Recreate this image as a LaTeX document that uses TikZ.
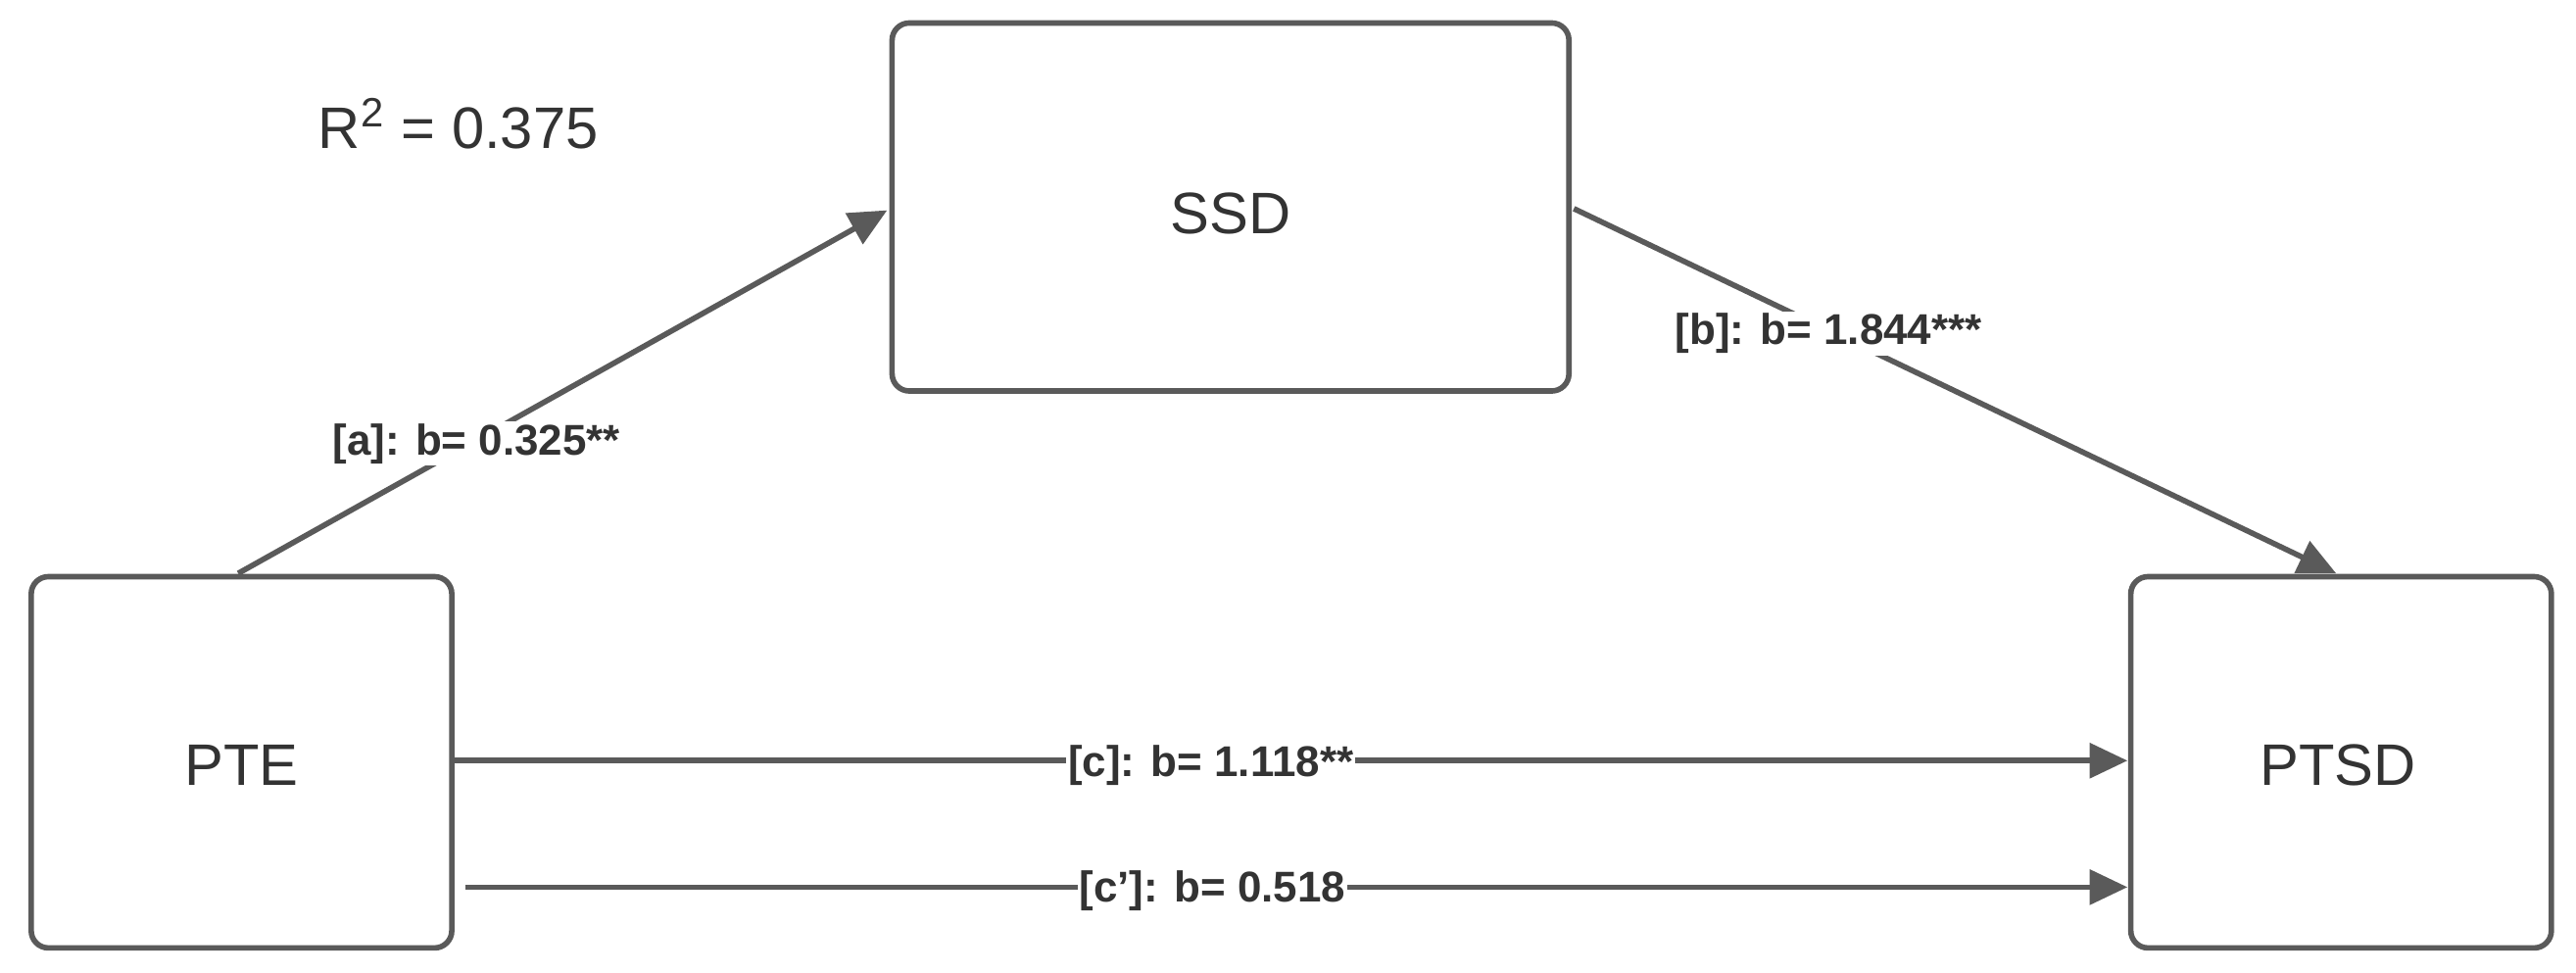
\documentclass[tikz,border=0pt]{standalone}
\usepackage{fontspec}
\setmainfont{Liberation Sans}
\usetikzlibrary{arrows.meta}
\definecolor{ln}{HTML}{5A5A5A}
\definecolor{tx}{HTML}{333333}
\begin{document}
\begin{tikzpicture}[x=0.016767cm,y=-0.016767cm,
 box/.style={draw=ln,line width=1.6pt,rounded corners=5pt,fill=white},
 lab/.style={font=\bfseries\fontsize{12.5}{14}\selectfont,text=tx,fill=white,inner sep=0.5pt},
 arr/.style={draw=ln,line width=1.6pt,-{Triangle[length=11pt,width=10pt]}}]
\useasboundingbox (0,0) rectangle (1568,592);
\draw[box] (543,14) rectangle (955,238);
\node[font=\fontsize{17}{20}\selectfont,text=tx] (ssd) at (749,130) {SSD};
\draw[box] (19,351) rectangle (275,577);
\node[font=\fontsize{17}{20}\selectfont,text=tx] (pte) at (147,466) {PTE};
\draw[box] (1297,351) rectangle (1553,577);
\node[font=\fontsize{17}{20}\selectfont,text=tx] (ptsd) at (1423,466) {PTSD};
\node[font=\fontsize{17}{20}\selectfont,text=tx] (r2) at (279,75) {R\textsuperscript{2} = 0.375};
\coordinate (a1) at (145,349); \coordinate (a2) at (540,128);
\coordinate (b1) at (958,127); \coordinate (b2) at (1422,349);
\coordinate (c1) at (277,463); \coordinate (c2) at (1295,463);
\coordinate (d1) at (283,540); \coordinate (d2) at (1295,540);
\draw[arr] (a1) -- (a2);
\draw[arr] (b1) -- (b2);
\draw[arr] (c1) -- (c2);
\draw[arr] (d1) -- (d2);
\node[lab] (la) at (290,270) {[a]: b= 0.325**};
\node[lab] (lb) at (1113,203) {[b]: b= 1.844***};
\node[lab] (lc) at (737,466) {[c]: b= 1.118**};
\node[lab] (ld) at (738,542) {[c']: b= 0.518};
\end{tikzpicture}
\end{document}
